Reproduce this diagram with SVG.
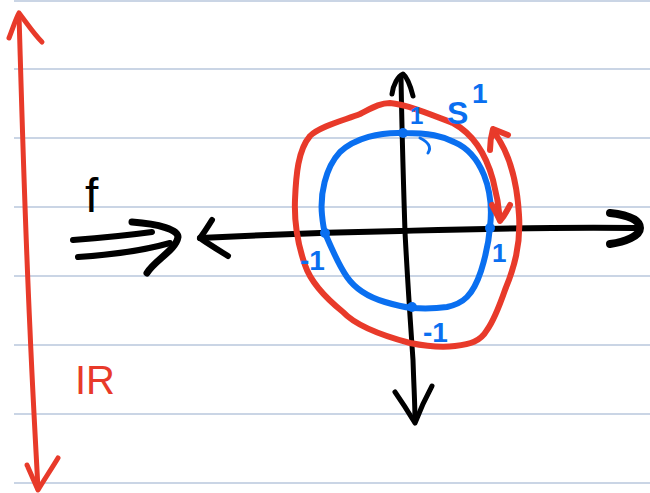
<svg xmlns="http://www.w3.org/2000/svg" width="650" height="493" viewBox="0 0 650 493">
<defs>
<style>
.rule{stroke:#b9c7dd;stroke-width:1.5;fill:none}
.red{stroke:#e83a2a;fill:none;stroke-linecap:round;stroke-linejoin:round}
.blue{stroke:#0a6ff0;fill:none;stroke-linecap:round;stroke-linejoin:round}
.blk{stroke:#000;fill:none;stroke-linecap:round;stroke-linejoin:round}
.lbl{font-family:"Liberation Sans",Arial,sans-serif}
.b{font-weight:bold;fill:#0a6ff0}
</style>
</defs>
<rect width="650" height="493" fill="#fff"/>
<g id="ruled-lines">
<line class="rule" x1="14" y1="1" x2="650" y2="1"/>
<line class="rule" x1="14" y1="69" x2="650" y2="69"/>
<line class="rule" x1="14" y1="138" x2="650" y2="138"/>
<line class="rule" x1="14" y1="207" x2="650" y2="207"/>
<line class="rule" x1="14" y1="276" x2="650" y2="276"/>
<line class="rule" x1="14" y1="345" x2="650" y2="345"/>
<line class="rule" x1="14" y1="414" x2="650" y2="414"/>
<line class="rule" x1="14" y1="483" x2="650" y2="483"/>
</g>
<g id="connectors">
<g id="real-line-arrow">
<path class="red" stroke-width="5" d="M19,15 C21,80 24,200 30,330 C33,400 36,450 38,489"/>
<path class="red" stroke-width="5" d="M9,38 C13,28 16,18 19,13 C26,22 34,34 42,42"/>
<path class="red" stroke-width="5" d="M27,465 C31,474 35,483 38,490 C44,480 52,468 58,458"/>
</g>
<g id="x-axis">
<path class="blk" stroke-width="6" d="M200,238 C260,235 300,233 400,231 C470,229 530,227 636,228"/>
<path class="blk" stroke-width="6" d="M212,220 C207,228 203,234 200,238 C210,245 220,251 228,256"/>
<path class="blk" stroke-width="8" d="M610,213 C628,215 640,220 640,228 C640,236 625,242 610,244"/>
</g>
<g id="y-axis">
<path class="blk" stroke-width="5" d="M401,76 C402,140 404,200 405,232 C408,290 411,330 413,360 C414,390 415,405 415,421"/>
<path class="blk" stroke-width="5" d="M392,94 C393,85 398,76 403,74 C408,78 411,88 413,96"/>
<path class="blk" stroke-width="5" d="M395,392 C402,402 409,413 415,423 C420,410 426,397 432,386"/>
</g>
<g id="f-map-arrow">
<path class="blk" stroke-width="6" d="M73,240 C100,238 130,235 152,232"/>
<path class="blk" stroke-width="6" d="M78,257 C110,255 145,250 170,243"/>
<path class="blk" stroke-width="7" d="M132,222 C160,224 178,230 178,237 C176,250 155,260 147,273"/>
</g>
</g>
<g id="circle-S1">
<path class="blue" stroke-width="6" d="M403,133 C380,132 355,138 340,152 C325,168 320,195 322,215 C323,225 324,230 325,233 C333,252 340,267 347,277 C356,290 368,297 385,302 C395,305 404,307 412,308 C428,309 440,308 447,307 C456,305 463,301 467,297 C474,290 478,280 481,271 C486,255 489,240 490,227 C492,210 490,190 484,175 C477,158 466,147 454,142 C442,136 430,133 403,133 Z"/>
<circle cx="403" cy="133" r="5" fill="#0a6ff0"/>
<circle cx="325" cy="233" r="5" fill="#0a6ff0"/>
<circle cx="490" cy="228" r="5" fill="#0a6ff0"/>
<circle cx="412" cy="307" r="5" fill="#0a6ff0"/>
<path class="blue" stroke-width="3" d="M420,138 C428,142 432,147 428,153"/>
</g>
<g id="stretched-loop">
<path class="red" stroke-width="6" d="M493,131 C508,150 517,180 519,215 C521,245 514,268 505,290 C498,310 492,323 487,330 C480,342 470,344 455,346 C440,348 425,346 410,343 C380,335 355,325 343,312 C322,295 310,280 305,265 C298,245 294,225 295,200 C296,175 298,150 310,136 C320,126 345,120 360,114 C372,108 380,103 390,103 C405,104 430,114 453,123 C475,135 487,158 493,180 C497,195 499,208 500,220"/>
<path class="red" stroke-width="6" d="M490,150 C490,142 491,136 493,129 C498,131 503,133 508,135"/>
<path class="red" stroke-width="6" d="M492,205 C495,211 498,216 500,221 C504,216 507,211 510,205"/>
</g>
<g id="labels">
<text class="lbl" x="85" y="212" font-size="48" fill="#000">f</text>
<text class="lbl" x="75" y="394" font-size="40" fill="#e83a2a">IR</text>
<text class="lbl b" x="447" y="124" font-size="32">S</text>
<text class="lbl b" x="472" y="103" font-size="28">1</text>
<text class="lbl b" x="410" y="124" font-size="24">1</text>
<text class="lbl b" x="300" y="270" font-size="28">-1</text>
<text class="lbl b" x="492" y="262" font-size="26">1</text>
<text class="lbl b" x="423" y="342" font-size="28">-1</text>
</g>
</svg>
